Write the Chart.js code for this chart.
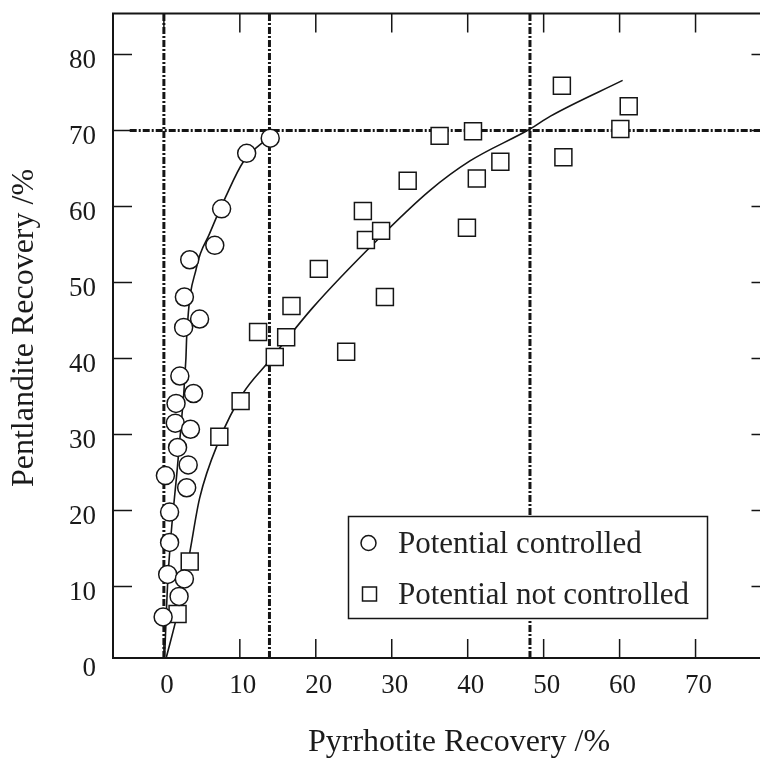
<!DOCTYPE html>
<html lang="en">
<head>
  <meta charset="UTF-8">
  <title>Pentlandite vs Pyrrhotite Recovery</title>
  <style>
    html, body { margin: 0; padding: 0; background: #fff; overflow: hidden; }
    /* the original frame runs past the right edge of the figure */
    #wrap { width: 785px; height: 758px; }
    canvas { display: block; }
  </style>
</head>
<body>
  <div id="wrap"><canvas id="chart" width="785" height="758"></canvas></div>

  <script src="https://cdn.jsdelivr.net/npm/chart.js@4/dist/chart.umd.min.js"></script>
  <script>
    // tick values
    const xTicks = [0, 10, 20, 30, 40, 50, 60, 70];
    const yTicks = [0, 10, 20, 30, 40, 50, 60, 70, 80];

    // Potential controlled (circles)
    const controlledX = [14.0, 10.9, 7.6, 6.7, 3.4, 2.7, 4.7, 2.6, 2.1, 3.9, 1.6, 1.5, 3.5, 1.8, 3.2, 0.2, 3.0, 0.75, 0.75, 0.5, 2.7, 2.0, -0.1];
    const controlledY = [69.0, 67.0, 59.7, 54.9, 53.0, 48.1, 45.2, 44.1, 37.7, 35.4, 34.1, 31.5, 30.7, 28.3, 26.0, 24.6, 23.0, 19.8, 15.8, 11.6, 11.0, 8.7, 6.0];

    // Potential not controlled (squares)
    const notControlledX = [1.8, 3.4, 7.3, 10.1, 12.4, 14.6, 16.1, 16.8, 20.4, 24.0, 26.2, 26.6, 28.6, 29.1, 32.1, 36.3, 40.7, 41.2, 39.9, 44.3, 52.4, 52.6, 60.1, 61.2];
    const notControlledY = [6.4, 13.3, 29.7, 34.4, 43.5, 40.2, 42.8, 46.9, 51.8, 40.9, 59.4, 55.6, 56.8, 48.1, 63.4, 69.3, 69.9, 63.7, 57.2, 65.9, 75.9, 66.5, 70.2, 73.2];

    // fitted curves
    const fitControlledX = [0.1, 0.5, 1.9, 2.9, 3.0, 4.3, 6.0, 8.1, 10.4, 13.0, 13.7];
    const fitControlledY = [0.8, 10.5, 27.1, 40.0, 42.8, 52.0, 56.4, 61.2, 65.8, 68.4, 68.8];
    const fitNotControlledX = [0.3, 1.8, 3.3, 4.7, 7.3, 10.4, 13.9, 19.6, 28.0, 35.0, 40.3, 48.2, 50.9, 60.4];
    const fitNotControlledY = [0.6, 6.5, 13.9, 21.6, 29.3, 35.4, 39.7, 46.7, 55.5, 62.1, 66.0, 70.2, 71.9, 76.6];

    // dash-dot guide lines
    const guideX = [0, 13.9, 48.2];
    const guideY = 70;
    const guideYStart = -4.5;

    const xMin = -6.7, xMax = 80;
    const yMin = 0.6, yMax = 85.4;

    const ink = '#151515';
    const serif = '"Liberation Serif", "Times New Roman", serif';
    const xTitle = 'Pyrrhotite Recovery /%';
    const yTitle = 'Pentlandite Recovery /%';

    const pts = (xs, ys) => xs.map((x, i) => ({ x: x, y: ys[i] }));

    const guideStyle = {
      type: 'line',
      showLine: true,
      borderColor: ink,
      borderWidth: 3,
      borderDash: [7, 2, 2, 2],
      pointRadius: 0,
      order: 3
    };
    const guideSets = guideX.map(gx => Object.assign({}, guideStyle, {
      data: [{ x: gx, y: yMin }, { x: gx, y: yMax }]
    }));
    guideSets.push(Object.assign({}, guideStyle, {
      data: [{ x: guideYStart, y: guideY }, { x: xMax, y: guideY }]
    }));

    // no extra edge padding from tick labels
    const noPad = s => { s.paddingTop = 0; s.paddingBottom = 0; s.paddingLeft = 0; s.paddingRight = 0; };

    // inward ticks on all four sides, frame and axis titles
    const frame = {
      id: 'frame',
      afterDatasetsDraw(chart) {
        const { ctx, chartArea: a, scales: { x, y } } = chart;
        ctx.save();
        ctx.strokeStyle = ink;
        ctx.lineWidth = 1.5;
        ctx.beginPath();
        xTicks.forEach(v => {
          const px = x.getPixelForValue(v);
          if (px < a.left || px > a.right) return;
          ctx.moveTo(px, a.bottom); ctx.lineTo(px, a.bottom - 19);
          ctx.moveTo(px, a.top); ctx.lineTo(px, a.top + 19);
        });
        yTicks.forEach(v => {
          const py = y.getPixelForValue(v);
          if (py < a.top || py > a.bottom) return;
          ctx.moveTo(a.left, py); ctx.lineTo(a.left + 19, py);
          ctx.moveTo(a.right, py); ctx.lineTo(a.right - 20, py);
        });
        ctx.stroke();
        ctx.lineWidth = 2;
        ctx.strokeRect(a.left, a.top, a.right - a.left, a.bottom - a.top);

        ctx.fillStyle = '#1a1a1a';
        ctx.font = '32px ' + serif;
        ctx.textAlign = 'center';
        ctx.textBaseline = 'middle';
        ctx.fillText(xTitle, 459, 743);
        ctx.translate(24.5, 328);
        ctx.rotate(-Math.PI / 2);
        ctx.fillText(yTitle, 0, 0);
        ctx.restore();
      }
    };

    // boxed legend like the original figure
    const boxLegend = {
      id: 'boxLegend',
      afterDraw(chart) {
        const { ctx } = chart;
        const items = chart.data.datasets.filter(d => d.label);
        ctx.save();
        ctx.fillStyle = '#fff';
        ctx.fillRect(348.5, 516.5, 359, 102);
        ctx.strokeStyle = ink;
        ctx.lineWidth = 1.5;
        ctx.strokeRect(348.5, 516.5, 359, 102);
        ctx.font = '31px ' + serif;
        ctx.textBaseline = 'middle';
        ctx.textAlign = 'left';
        items.forEach((d, i) => {
          const cy = 543 + i * 51;
          ctx.beginPath();
          if (d.pointStyle === 'rect') {
            ctx.rect(362.5, cy - 7, 14, 14);
          } else {
            ctx.arc(368.5, cy, 7.5, 0, Math.PI * 2);
          }
          ctx.lineWidth = 1.5;
          ctx.stroke();
          ctx.fillStyle = '#222';
          ctx.fillText(d.label, 398, cy + 1.5);
        });
        ctx.restore();
      }
    };

    new Chart(document.getElementById('chart'), {
      type: 'scatter',
      data: {
        datasets: [
          {
            label: 'Potential controlled',
            data: pts(controlledX, controlledY),
            pointStyle: 'circle',
            pointRadius: 9,
            pointBorderWidth: 1.5,
            borderColor: ink,
            backgroundColor: '#fff',
            order: 1
          },
          {
            label: 'Potential not controlled',
            data: pts(notControlledX, notControlledY),
            pointStyle: 'rect',
            pointRadius: 12,
            pointBorderWidth: 1.5,
            borderColor: ink,
            backgroundColor: '#fff',
            order: 1
          },
          {
            type: 'line',
            data: pts(fitControlledX, fitControlledY),
            showLine: true,
            borderColor: ink,
            borderWidth: 1.6,
            cubicInterpolationMode: 'monotone',
            pointRadius: 0,
            order: 2
          },
          {
            type: 'line',
            data: pts(fitNotControlledX, fitNotControlledY),
            showLine: true,
            borderColor: ink,
            borderWidth: 1.6,
            cubicInterpolationMode: 'monotone',
            pointRadius: 0,
            order: 2
          },
          ...guideSets
        ]
      },
      options: {
        responsive: false,
        animation: false,
        layout: { padding: { top: 12, right: 0, bottom: 0, left: 0 } },
        plugins: { legend: { display: false }, tooltip: { enabled: false } },
        scales: {
          x: {
            type: 'linear',
            min: xMin,
            max: xMax,
            afterBuildTicks: s => { s.ticks = xTicks.map(v => ({ value: v })); },
            afterFit: s => { s.height = 100; noPad(s); },
            grid: { display: false, drawTicks: false },
            border: { display: false },
            ticks: {
              autoSkip: false,
              maxRotation: 0,
              padding: 12,
              labelOffset: 3,
              color: '#1a1a1a',
              font: { family: serif, size: 27 }
            },
            title: { display: false }
          },
          y: {
            type: 'linear',
            min: yMin,
            max: yMax,
            afterBuildTicks: s => { s.ticks = yTicks.map(v => ({ value: v })); },
            afterFit: s => { s.width = 113; noPad(s); },
            grid: { display: false, drawTicks: false },
            border: { display: false },
            ticks: {
              autoSkip: false,
              padding: 17,
              labelOffset: c => (c.tick && c.tick.value === 0 ? -4 : 6),
              color: '#1a1a1a',
              font: { family: serif, size: 27 }
            },
            title: { display: false }
          }
        }
      },
      plugins: [frame, boxLegend]
    });
  </script>
</body>
</html>
